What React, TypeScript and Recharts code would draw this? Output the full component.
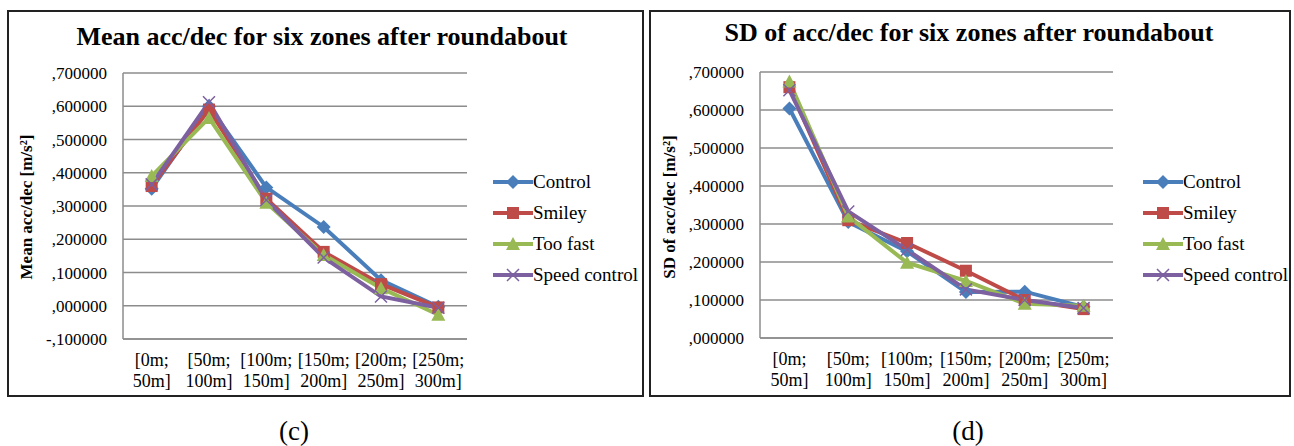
import { LineChart, Line, XAxis, YAxis, CartesianGrid, Legend } from 'recharts';

// zones after the roundabout
const zones = ['[0m; 50m]', '[50m; 100m]', '[100m; 150m]', '[150m; 200m]', '[200m; 250m]', '[250m; 300m]'];

// (c) mean acc/dec [m/s²]
const meanControl = [0.352, 0.6, 0.356, 0.237, 0.077, -0.003];
const meanSmiley = [0.36, 0.59, 0.322, 0.162, 0.065, -0.005];
const meanTooFast = [0.39, 0.565, 0.31, 0.153, 0.053, -0.027];
const meanSpeedControl = [0.365, 0.612, 0.318, 0.145, 0.028, -0.006];

// (d) SD of acc/dec [m/s²]
const sdControl = [0.604, 0.305, 0.228, 0.121, 0.122, 0.082];
const sdSmiley = [0.66, 0.31, 0.25, 0.177, 0.1, 0.076];
const sdTooFast = [0.675, 0.32, 0.198, 0.15, 0.09, 0.085];
const sdSpeedControl = [0.652, 0.333, 0.232, 0.128, 0.1, 0.079];

const meanTicks = [-0.1, 0, 0.1, 0.2, 0.3, 0.4, 0.5, 0.6, 0.7];
const sdTicks = [0, 0.1, 0.2, 0.3, 0.4, 0.5, 0.6, 0.7];

const series = [
  { key: 'Control', color: '#4A7EBB', marker: 'diamond' },
  { key: 'Smiley', color: '#BE4B48', marker: 'square' },
  { key: 'Too fast', color: '#98B954', marker: 'triangle' },
  { key: 'Speed control', color: '#7D60A0', marker: 'x' },
];

const FONT = '"Liberation Serif", "Times New Roman", serif';
const GRID = '#8c8c8c';

const buildRows = (c: number[], s: number[], t: number[], sc: number[]) =>
  zones.map((zone, i) => ({ zone, Control: c[i], Smiley: s[i], 'Too fast': t[i], 'Speed control': sc[i] }));

const meanRows = buildRows(meanControl, meanSmiley, meanTooFast, meanSpeedControl);
const sdRows = buildRows(sdControl, sdSmiley, sdTooFast, sdSpeedControl);

const fmtTick = (v: number) => {
  const digits = Math.round(Math.abs(v) * 1e6).toString().padStart(6, '0');
  return (v < 0 ? '-' : '') + ',' + digits;
};

function Marker({ kind, cx, cy, color }: { kind: string; cx: number; cy: number; color: string }) {
  if (cx == null || cy == null) return null;
  switch (kind) {
    case 'diamond':
      return <path d={`M${cx},${cy - 7}L${cx + 7},${cy}L${cx},${cy + 7}L${cx - 7},${cy}Z`} fill={color} />;
    case 'square':
      return <rect x={cx - 6} y={cy - 6} width={12} height={12} fill={color} />;
    case 'triangle':
      return <path d={`M${cx},${cy - 7}L${cx + 7},${cy + 6}L${cx - 7},${cy + 6}Z`} fill={color} />;
    default:
      return (
        <path
          d={`M${cx - 6},${cy - 6}L${cx + 6},${cy + 6}M${cx + 6},${cy - 6}L${cx - 6},${cy + 6}`}
          stroke={color}
          strokeWidth={1.5}
          fill="none"
        />
      );
  }
}

function ZoneTick(props: any) {
  const { x, y, payload } = props;
  const [a, b] = String(payload.value).split(' ');
  return (
    <text x={x} y={y} textAnchor="middle" fontFamily={FONT} fontSize={18} fill="#000">
      <tspan x={x} dy={27}>{a}</tspan>
      <tspan x={x} dy={21}>{b}</tspan>
    </text>
  );
}

function renderLegend() {
  return (
    <div style={{ fontFamily: FONT, fontSize: 19, color: '#000' }}>
      {series.map((s) => (
        <div key={s.key} style={{ display: 'flex', alignItems: 'center', height: 31, whiteSpace: 'nowrap' }}>
          <svg width={40} height={16} style={{ display: 'block' }}>
            <line x1={0} y1={8} x2={40} y2={8} stroke={s.color} strokeWidth={4} />
            <Marker kind={s.marker} cx={20} cy={8} color={s.color} />
          </svg>
          <span>{s.key}</span>
        </div>
      ))}
    </div>
  );
}

interface PanelProps {
  rows: Array<Record<string, any>>;
  ticks: number[];
  left: number;
  margin: { top: number; right: number; bottom: number; left: number };
  legendLeft: number;
}

function Panel({ rows, ticks, left, margin, legendLeft }: PanelProps) {
  return (
    <div style={{ position: 'absolute', left, top: 0 }}>
      <LineChart width={650} height={446} data={rows} margin={margin}>
        <CartesianGrid vertical={false} stroke={GRID} strokeWidth={1.5} />
        <XAxis
          dataKey="zone"
          scale="band"
          interval={0}
          axisLine={{ stroke: GRID, strokeWidth: 1.5 }}
          tickLine={false}
          tickSize={0}
          tickMargin={0}
          height={50}
          tick={<ZoneTick />}
        />
        <YAxis
          type="number"
          domain={[ticks[0], ticks[ticks.length - 1]]}
          ticks={ticks}
          interval={0}
          width={80}
          axisLine={{ stroke: GRID, strokeWidth: 1.5 }}
          tickLine={false}
          tickSize={0}
          tickMargin={16}
          tickFormatter={fmtTick}
          tick={{ fontFamily: FONT, fontSize: 17, fill: '#000' }}
        />
        <Legend
          layout="vertical"
          align="center"
          verticalAlign="middle"
          content={renderLegend}
          wrapperStyle={{ left: legendLeft, top: 166, width: 160 }}
        />
        {series.map((s) => (
          <Line
            key={s.key}
            dataKey={s.key}
            stroke={s.color}
            strokeWidth={4}
            isAnimationActive={false}
            dot={(p: any) => <Marker key={`${s.key}-${p.index}`} kind={s.marker} cx={p.cx} cy={p.cy} color={s.color} />}
            activeDot={false}
          />
        ))}
      </LineChart>
    </div>
  );
}

const textBase: React.CSSProperties = { position: 'absolute', fontFamily: FONT, color: '#000', whiteSpace: 'nowrap', textAlign: 'center' };

function Title({ cx, cy, children }: { cx: number; cy: number; children: React.ReactNode }) {
  return (
    <div style={{ ...textBase, left: cx - 300, top: cy - 15, width: 600, lineHeight: '30px', fontSize: 26, fontWeight: 'bold' }}>
      {children}
    </div>
  );
}

function YTitle({ cx, cy, children }: { cx: number; cy: number; children: React.ReactNode }) {
  return (
    <div
      style={{
        ...textBase,
        left: cx - 150,
        top: cy - 11,
        width: 300,
        lineHeight: '22px',
        fontSize: 17,
        fontWeight: 'bold',
        transform: 'rotate(-90deg)',
      }}
    >
      {children}
    </div>
  );
}

export default function App() {
  return (
    <div style={{ position: 'absolute', left: 0, top: 0, width: 1294, height: 446, background: '#fff', overflow: 'hidden' }}>
      <div style={{ position: 'absolute', left: 7, top: 10, width: 637, height: 387, border: '2px solid #222', boxSizing: 'border-box' }} />
      <div style={{ position: 'absolute', left: 649, top: 10, width: 642, height: 387, border: '2px solid #222', boxSizing: 'border-box' }} />

      <Panel rows={meanRows} ticks={meanTicks} left={0} margin={{ top: 73, right: 183, bottom: 57, left: 43 }} legendLeft={493} />
      <Panel rows={sdRows} ticks={sdTicks} left={644} margin={{ top: 72, right: 181, bottom: 58, left: 36 }} legendLeft={499} />

      <Title cx={322} cy={37}>Mean acc/dec for six zones after roundabout</Title>
      <Title cx={969} cy={33}>SD of acc/dec for six zones after roundabout</Title>
      <YTitle cx={27} cy={207}>Mean acc/dec [m/s²]</YTitle>
      <YTitle cx={670} cy={207}>SD of acc/dec [m/s²]</YTitle>

      <div style={{ ...textBase, left: 244, top: 415, width: 100, fontSize: 27, lineHeight: '32px' }}>(c)</div>
      <div style={{ ...textBase, left: 918, top: 415, width: 100, fontSize: 27, lineHeight: '32px' }}>(d)</div>
    </div>
  );
}
